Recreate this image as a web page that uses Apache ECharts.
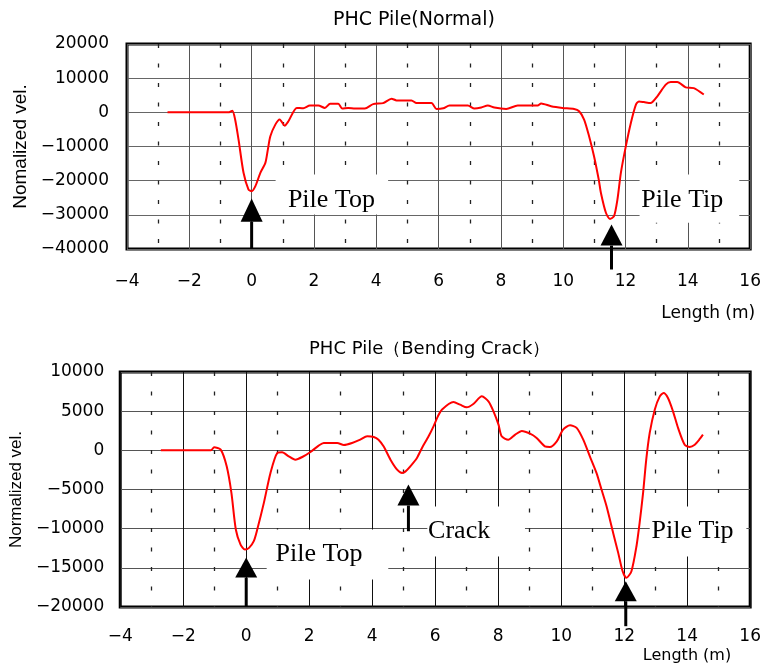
<!DOCTYPE html>
<html>
<head>
<meta charset="utf-8">
<script src="https://cdn.jsdelivr.net/npm/echarts@6/dist/echarts.min.js"></script>
<style>
  html, body { margin: 0; padding: 0; background: #fff; }
  #main { width: 764px; height: 666px; }
</style>
</head>
<body>
<div id="main"></div>
<script>
// PHC pile (normal) - length (m) vs normalized velocity
var lenTop = [-2.7, -0.75, -0.62, -0.53, -0.42, -0.26, -0.1, 0.0, 0.12, 0.28, 0.44, 0.52, 0.6, 0.76, 0.9, 1.06, 1.18, 1.45, 1.66, 1.87,
  2.14, 2.35, 2.52, 2.78, 2.91, 3.1, 3.32, 3.63, 3.9, 4.22, 4.49, 4.65, 5.13, 5.29, 5.77, 5.93, 6.15, 6.35, 6.94, 7.15,
  7.37, 7.58, 7.79, 8.17, 8.54, 9.18, 9.29, 9.61, 9.98, 10.35, 10.51, 10.67, 10.83, 10.99, 11.14, 11.21, 11.37, 11.5, 11.63, 11.74,
  11.85, 12.01, 12.17, 12.33, 12.43, 12.59, 12.8, 13.02, 13.29, 13.45, 13.66, 13.93, 14.19, 14.51];
var velTop = [0, 0, 500, -2100, -8000, -17700, -22600, -23100, -21600, -17700, -14800, -10900, -7000, -3600, -2100, -3900, -2600, 1300, 1200, 2000,
  2000, 1300, 2500, 2500, 1100, 1300, 1100, 1100, 2400, 2700, 4000, 3500, 3500, 2700, 2700, 1000, 1200, 2000, 2000, 1100,
  1400, 2000, 1400, 1000, 2000, 2000, 2600, 1800, 1300, 1000, 300, -2100, -7000, -12900, -19700, -23600, -29400, -31200, -30400, -25500,
  -17700, -9900, -3100, 2200, 3200, 3000, 2700, 4700, 8100, 8900, 8900, 7300, 7100, 5200];

// PHC pile (bending crack)
var lenBot = [-2.71, -1.12, -1.02, -0.81, -0.62, -0.47, -0.33, -0.18, -0.04, 0.09, 0.24, 0.35, 0.56, 0.77, 0.99, 1.14, 1.35, 1.56, 1.78, 2.04,
  2.3, 2.46, 2.89, 3.1, 3.36, 3.62, 3.84, 4.05, 4.2, 4.36, 4.58, 4.79, 4.95, 5.05, 5.21, 5.42, 5.58, 5.79, 5.95, 6.08,
  6.21, 6.58, 6.79, 7.0, 7.21, 7.48, 7.69, 7.85, 8.01, 8.11, 8.32, 8.54, 8.75, 9.01, 9.22, 9.48, 9.64, 9.86, 10.06, 10.28,
  10.49, 10.7, 10.91, 11.12, 11.28, 11.44, 11.65, 11.81, 11.95, 12.07, 12.23, 12.39, 12.49, 12.6, 12.7, 12.81, 12.97, 13.13, 13.25, 13.39,
  13.55, 13.71, 13.92, 14.08, 14.24, 14.4, 14.5];
var velBot = [0, 0, 380, 90, -2040, -5430, -10110, -12030, -12660, -12450, -11600, -10110, -6710, -2880, -330, -250, -770, -1190, -850, -210,
  600, 940, 940, 690, 940, 1360, 1790, 1710, 1360, 510, -1190, -2460, -2880, -2720, -2040, -970, 310, 1790, 3100, 4300,
  5190, 6170, 5830, 5490, 5920, 6890, 6250, 4980, 3280, 1790, 1360, 2000, 2470, 2130, 1580, 510, 430, 1150, 2640, 3190,
  2860, 1360, -770, -2880, -5010, -7140, -10540, -13090, -15430, -16280, -15430, -12240, -9260, -5430, -1190, 2220, 5190, 6890, 7320, 6680,
  4980, 2860, 720, 430, 720, 1450, 2000];

var xTicks = [-4, -2, 0, 2, 4, 6, 8, 10, 12, 14, 16];
var yTicksTop = [-40000, -30000, -20000, -10000, 0, 10000, 20000];
var yTicksBot = [-20000, -15000, -10000, -5000, 0, 5000, 10000];

// annotation arrows + labels, in data units
var notesTop = [
  { text: 'Pile Top', x: 0, tip: -25200, base: -32000, end: -40000, tx: 2.56, ty: -25800, box: [0.77, 4.38, -18200, -29900] },
  { text: 'Pile Tip', x: 11.55, tip: -32800, base: -39000, end: -46000, tx: 13.82, ty: -25800, box: [12.45, 15.65, -18200, -32300] }
];
var notesBot = [
  { text: 'Pile Top', x: 0, tip: -13690, base: -16240, end: -20000, tx: 2.31, ty: -13300, box: [0.65, 4.51, -10110, -16490] },
  { text: 'Crack', x: 5.15, tip: -4370, base: -7050, end: -10330, tx: 6.76, ty: -10370, box: [5.75, 8.85, -7180, -13560] },
  { text: 'Pile Tip', x: 12.05, tip: -16710, base: -19260, end: -22450, tx: 14.17, ty: -10370, box: [12.81, 15.88, -7180, -13560] }
];

function pairs(xs, ys) {
  return xs.map(function (x, i) { return [x, ys[i]]; });
}
function minus(v) {
  return v < 0 ? '\u2212' + Math.abs(v) : String(v);
}

function noteRender(notes) {
  return function (params, api) {
    var n = notes[api.value(2)];
    var tip = api.coord([n.x, n.tip]);
    var base = api.coord([n.x, n.base]);
    var end = api.coord([n.x, n.end]);
    var b0 = api.coord([n.box[0], n.box[2]]);
    var b1 = api.coord([n.box[1], n.box[3]]);
    var t = api.coord([n.tx, n.ty]);
    return {
      type: 'group',
      children: [
        { type: 'rect', shape: { x: b0[0], y: b0[1], width: b1[0] - b0[0], height: b1[1] - b0[1] }, style: { fill: '#fff' } },
        { type: 'text', style: { text: n.text, x: t[0], y: t[1], font: '26px "Liberation Serif"', fill: '#000', align: 'center', verticalAlign: 'middle' } },
        { type: 'line', shape: { x1: base[0], y1: base[1], x2: end[0], y2: end[1] }, style: { stroke: '#000', lineWidth: 3 } },
        { type: 'polygon', shape: { points: [tip, [tip[0] - 11, base[1]], [tip[0] + 11, base[1]]] }, style: { fill: '#000' } }
      ]
    };
  };
}

function xAxisOf(gi, margin, nameGap, namePad, nameSize, vColor) {
  return {
    gridIndex: gi, type: 'value', min: xTicks[0], max: xTicks[xTicks.length - 1], interval: 2,
    axisLine: { show: false, onZero: false }, axisTick: { show: false },
    axisLabel: { margin: margin, fontSize: 17, color: '#000', fontFamily: 'DejaVu Sans', formatter: minus },
    splitLine: { show: true, lineStyle: { color: vColor, width: 1 } },
    minorTick: { show: false, splitNumber: 2 },
    minorSplitLine: { show: true, lineStyle: { color: '#222', width: 1.3, type: [4, 15.5] } },
    name: 'Length (m)', nameLocation: 'end', nameGap: nameGap,
    nameTextStyle: { fontSize: nameSize, fontFamily: 'DejaVu Sans', color: '#000', align: 'right', verticalAlign: 'top', padding: [namePad, 0, 0, 0] }
  };
}
function yAxisOf(gi, ticks, margin, name, nameGap, nameSize, hColor) {
  return {
    gridIndex: gi, type: 'value', min: ticks[0], max: ticks[ticks.length - 1], interval: ticks[1] - ticks[0],
    axisLine: { show: false, onZero: false }, axisTick: { show: false },
    axisLabel: { margin: margin, fontSize: 17, color: '#000', fontFamily: 'DejaVu Sans', formatter: minus },
    splitLine: { show: true, lineStyle: { color: hColor, width: 1.2 } },
    name: name, nameLocation: 'middle', nameGap: nameGap,
    nameTextStyle: { fontSize: nameSize, fontFamily: 'Liberation Sans', color: '#000' }
  };
}

var chart = echarts.init(document.getElementById('main'), null, { renderer: 'canvas' });
chart.setOption({
  animation: false,
  backgroundColor: '#fff',
  title: [
    { text: 'PHC Pile(Normal)', left: 333, top: 11, padding: 0, textStyle: { fontSize: 19, fontWeight: 'normal', fontFamily: 'DejaVu Sans', color: '#000' } },
    { text: 'PHC Pile\uFF08Bending Crack\uFF09', left: 309, top: 340, padding: 0, textStyle: { fontSize: 18, fontWeight: 'normal', fontFamily: 'DejaVu Sans', color: '#000' } }
  ],
  grid: [
    { left: 127, top: 44, width: 626, height: 205, show: true, borderColor: '#000', borderWidth: 3, backgroundColor: 'transparent' },
    { left: 119, top: 372, width: 632, height: 235, show: true, borderColor: '#000', borderWidth: 3, backgroundColor: 'transparent' }
  ],
  xAxis: [
    xAxisOf(0, 24, 5, 56, 17, '#555'),
    xAxisOf(1, 21, -19, 41, 16, '#111')
  ],
  yAxis: [
    yAxisOf(0, yTicksTop, 18, 'Nomalized vel.', 96, 19, '#666'),
    yAxisOf(1, yTicksBot, 16, 'Normalized vel.', 94, 17, '#555')
  ],
  series: [
    { type: 'custom', xAxisIndex: 0, yAxisIndex: 0, clip: false, z: 2, silent: true,
      renderItem: noteRender(notesTop), data: notesTop.map(function (n, i) { return [n.x, n.tip, i]; }) },
    { type: 'custom', xAxisIndex: 1, yAxisIndex: 1, clip: false, z: 2, silent: true,
      renderItem: noteRender(notesBot), data: notesBot.map(function (n, i) { return [n.x, n.tip, i]; }) },
    { type: 'line', xAxisIndex: 0, yAxisIndex: 0, data: pairs(lenTop, velTop), showSymbol: false, smooth: 0.25, z: 3,
      lineStyle: { color: '#ff0000', width: 2 } },
    { type: 'line', xAxisIndex: 1, yAxisIndex: 1, data: pairs(lenBot, velBot), showSymbol: false, smooth: 0.25, z: 3,
      lineStyle: { color: '#ff0000', width: 2 } }
  ]
});
</script>
</body>
</html>
